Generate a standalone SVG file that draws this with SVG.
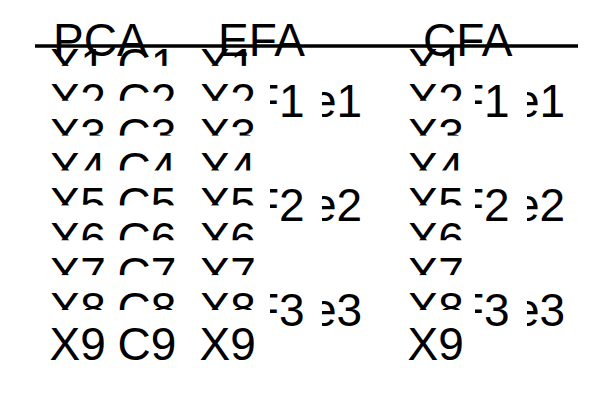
<svg xmlns="http://www.w3.org/2000/svg" width="600" height="400" viewBox="0 0 600 400">
<style>
text{font-family:"Liberation Sans",Arial,sans-serif;font-size:46px;fill:#000}
.bg{fill:#fff}
.rule{stroke:#000;stroke-width:3.5}
</style>
<rect width="600" height="400" fill="#fff"/>
<!-- error terms -->
<g id="e1_efa"><text x="311" y="116.5">e1</text></g>
<g id="e2_efa"><text x="311" y="221">e2</text></g>
<g id="e3_efa"><text x="311" y="325.5">e3</text></g>
<g id="e1_cfa"><text x="514" y="116.5">e1</text></g>
<g id="e2_cfa"><text x="514" y="221">e2</text></g>
<g id="e3_cfa"><text x="514" y="325.5">e3</text></g>
<!-- factors -->
<g id="F1_efa"><rect class="bg" x="255" y="80" width="67" height="44"/><text x="251" y="116.5">F1</text></g>
<g id="F2_efa"><rect class="bg" x="255" y="184.5" width="67" height="44"/><text x="251" y="221">F2</text></g>
<g id="F3_efa"><rect class="bg" x="255" y="289" width="67" height="44"/><text x="251" y="325.5">F3</text></g>
<g id="F1_cfa"><rect class="bg" x="460" y="80" width="67" height="44"/><text x="456" y="116.5">F1</text></g>
<g id="F2_cfa"><rect class="bg" x="460" y="184.5" width="67" height="44"/><text x="456" y="221">F2</text></g>
<g id="F3_cfa"><rect class="bg" x="460" y="289" width="67" height="44"/><text x="456" y="325.5">F3</text></g>
<!-- PCA X column -->
<g id="pca_X1"><rect class="bg" x="45" y="31" width="70" height="35.5"/><text x="49.5" y="80.8">X1</text></g>
<g id="pca_X2"><rect class="bg" x="45" y="65.9" width="70" height="35.5"/><text x="49.5" y="115.7">X2</text></g>
<g id="pca_X3"><rect class="bg" x="45" y="100.75" width="70" height="35.5"/><text x="49.5" y="150.5">X3</text></g>
<g id="pca_X4"><rect class="bg" x="45" y="135.6" width="70" height="35.5"/><text x="49.5" y="185.4">X4</text></g>
<g id="pca_X5"><rect class="bg" x="45" y="170.5" width="70" height="35.5"/><text x="49.5" y="220.3">X5</text></g>
<g id="pca_X6"><rect class="bg" x="45" y="205.4" width="70" height="35.5"/><text x="49.5" y="255.2">X6</text></g>
<g id="pca_X7"><rect class="bg" x="45" y="240.25" width="70" height="35.5"/><text x="49.5" y="290">X7</text></g>
<g id="pca_X8"><rect class="bg" x="45" y="275.1" width="70" height="35.5"/><text x="49.5" y="324.9">X8</text></g>
<g id="pca_X9"><rect class="bg" x="45" y="310" width="70" height="35.5"/><text x="49.5" y="359.8">X9</text></g>
<!-- PCA components -->
<g id="pca_C1"><rect class="bg" x="113" y="31" width="70" height="35.5"/><text x="117.5" y="80.8">C1</text></g>
<g id="pca_C2"><rect class="bg" x="113" y="65.9" width="70" height="35.5"/><text x="117.5" y="115.7">C2</text></g>
<g id="pca_C3"><rect class="bg" x="113" y="100.75" width="70" height="35.5"/><text x="117.5" y="150.5">C3</text></g>
<g id="pca_C4"><rect class="bg" x="113" y="135.6" width="70" height="35.5"/><text x="117.5" y="185.4">C4</text></g>
<g id="pca_C5"><rect class="bg" x="113" y="170.5" width="70" height="35.5"/><text x="117.5" y="220.3">C5</text></g>
<g id="pca_C6"><rect class="bg" x="113" y="205.4" width="70" height="35.5"/><text x="117.5" y="255.2">C6</text></g>
<g id="pca_C7"><rect class="bg" x="113" y="240.25" width="70" height="35.5"/><text x="117.5" y="290">C7</text></g>
<g id="pca_C8"><rect class="bg" x="113" y="275.1" width="70" height="35.5"/><text x="117.5" y="324.9">C8</text></g>
<g id="pca_C9"><rect class="bg" x="113" y="310" width="70" height="35.5"/><text x="117.5" y="359.8">C9</text></g>
<!-- EFA X column -->
<g id="efa_X1"><rect class="bg" x="195" y="31" width="75" height="35.5"/><text x="199.5" y="80.8">X1</text></g>
<g id="efa_X2"><rect class="bg" x="195" y="65.9" width="75" height="35.5"/><text x="199.5" y="115.7">X2</text></g>
<g id="efa_X3"><rect class="bg" x="195" y="100.75" width="75" height="35.5"/><text x="199.5" y="150.5">X3</text></g>
<g id="efa_X4"><rect class="bg" x="195" y="135.6" width="75" height="35.5"/><text x="199.5" y="185.4">X4</text></g>
<g id="efa_X5"><rect class="bg" x="195" y="170.5" width="75" height="35.5"/><text x="199.5" y="220.3">X5</text></g>
<g id="efa_X6"><rect class="bg" x="195" y="205.4" width="75" height="35.5"/><text x="199.5" y="255.2">X6</text></g>
<g id="efa_X7"><rect class="bg" x="195" y="240.25" width="75" height="35.5"/><text x="199.5" y="290">X7</text></g>
<g id="efa_X8"><rect class="bg" x="195" y="275.1" width="75" height="35.5"/><text x="199.5" y="324.9">X8</text></g>
<g id="efa_X9"><rect class="bg" x="195" y="310" width="75" height="35.5"/><text x="199.5" y="359.8">X9</text></g>
<!-- CFA X column -->
<g id="cfa_X1"><rect class="bg" x="403" y="31" width="72" height="35.5"/><text x="407.5" y="80.8">X1</text></g>
<g id="cfa_X2"><rect class="bg" x="403" y="65.9" width="72" height="35.5"/><text x="407.5" y="115.7">X2</text></g>
<g id="cfa_X3"><rect class="bg" x="403" y="100.75" width="72" height="35.5"/><text x="407.5" y="150.5">X3</text></g>
<g id="cfa_X4"><rect class="bg" x="403" y="135.6" width="72" height="35.5"/><text x="407.5" y="185.4">X4</text></g>
<g id="cfa_X5"><rect class="bg" x="403" y="170.5" width="72" height="35.5"/><text x="407.5" y="220.3">X5</text></g>
<g id="cfa_X6"><rect class="bg" x="403" y="205.4" width="72" height="35.5"/><text x="407.5" y="255.2">X6</text></g>
<g id="cfa_X7"><rect class="bg" x="403" y="240.25" width="72" height="35.5"/><text x="407.5" y="290">X7</text></g>
<g id="cfa_X8"><rect class="bg" x="403" y="275.1" width="72" height="35.5"/><text x="407.5" y="324.9">X8</text></g>
<g id="cfa_X9"><rect class="bg" x="403" y="310" width="72" height="35.5"/><text x="407.5" y="359.8">X9</text></g>
<!-- headers -->
<g id="hdr_pca"><text x="53" y="56">PCA</text></g>
<g id="hdr_efa"><text x="218" y="56">EFA</text></g>
<g id="hdr_cfa"><text x="423" y="56">CFA</text></g>
<g id="connectors"><line class="rule" x1="35" y1="46" x2="578" y2="46"/></g>
</svg>
